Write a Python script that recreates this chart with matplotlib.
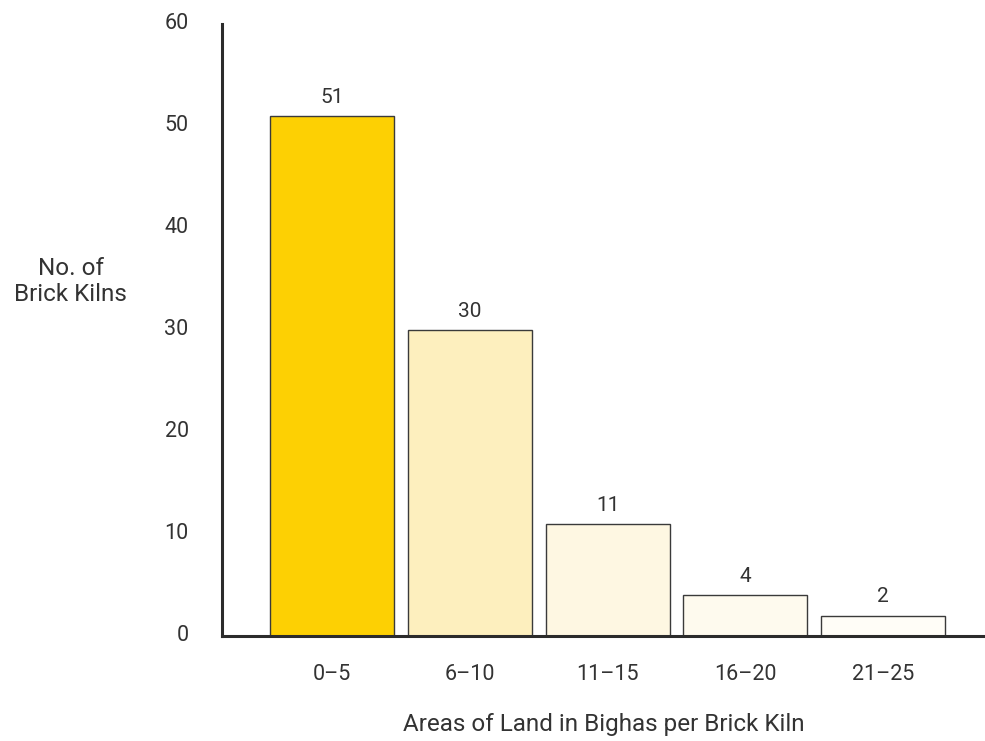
import matplotlib
matplotlib.use('Agg')
import matplotlib.pyplot as plt
from matplotlib.transforms import ScaledTranslation

# land area bands (bighas) and number of kilns in each
bands = ['0–5', '6–10', '11–15', '16–20', '21–25']
kilns = [51, 30, 11, 4, 2]
fills = ['#FDD003', '#FDEFBE', '#FEF7E2', '#FEFAEE', '#FFFDF7']

plt.rcParams['font.family'] = ['Roboto', 'DejaVu Sans']
txt = '#333333'

fig = plt.figure(figsize=(9.85, 7.41), dpi=100)
ax = fig.add_axes([0.2254, 0.1417, 0.7746, 0.8259])

pos = list(range(len(bands)))
bars = ax.bar(pos, kilns, width=0.9, color=fills, edgecolor='#3a3a3a', linewidth=1.0)

for b, v in zip(bars, kilns):
    ax.text(b.get_x() + b.get_width() / 2, v + 0.9, str(v),
            ha='center', va='bottom', fontsize=15, color=txt)

ax.set_xlim(-0.8, 4.74)
ax.set_ylim(0, 60)
ax.set_yticks(range(0, 61, 10))
ax.set_xticks(pos)
ax.set_xticklabels(bands)
ax.tick_params(axis='both', length=0, labelsize=15.5, labelcolor=txt)
ax.tick_params(axis='x', pad=20)
ax.tick_params(axis='y', pad=24)
# nudge the y labels up a little
for lbl in ax.get_yticklabels():
    lbl.set_transform(lbl.get_transform() + ScaledTranslation(0, 0.03, fig.dpi_scale_trans))

for s in ['top', 'right']:
    ax.spines[s].set_visible(False)
for s in ['left', 'bottom']:
    ax.spines[s].set_linewidth(2.2)
    ax.spines[s].set_color('#2b2b2b')

ax.set_xlabel('Areas of Land in Bighas per Brick Kiln', fontsize=17.5, color=txt, labelpad=20)
fig.text(0.072, 0.62, 'No. of\nBrick Kilns', ha='center', va='center',
         fontsize=17.5, color=txt, linespacing=1.2)

fig.savefig('out.png', dpi=100)
